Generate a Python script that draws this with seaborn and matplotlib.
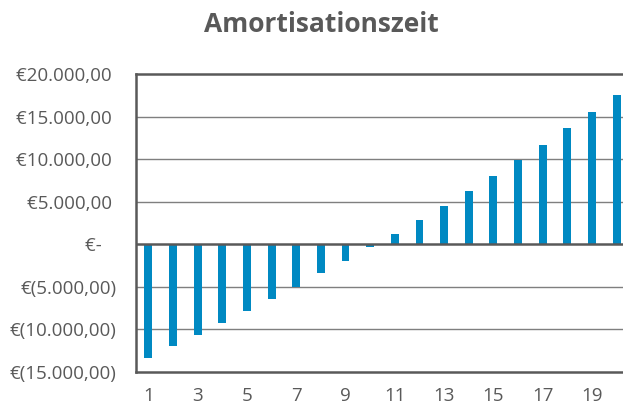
import numpy as np
import pandas as pd
import seaborn as sns
import matplotlib.pyplot as plt
from matplotlib.ticker import FuncFormatter

# Jahr und kumulierter Saldo (Euro)
jahre = list(range(1, 21))
saldo = [-13300, -12000, -10650, -9300, -7850, -6450, -5000, -3430, -1940, -330,
         1200, 2820, 4540, 6260, 8030, 9870, 11700, 13630, 15580, 17580]
y_ticks = [-15000, -10000, -5000, 0, 5000, 10000, 15000, 20000]
x_ticks = [1, 3, 5, 7, 9, 11, 13, 15, 17, 19]
titel = 'Amortisationszeit'

BAR_COLOR = '#0089C2'
TEXT_COLOR = '#595959'


def euro(v, pos=None):
    """ Buchhaltungsformat wie in Excel """
    if v == 0:
        return '€-   '
    s = f'{abs(v):,.2f}'.replace(',', 'X').replace('.', ',').replace('X', '.')
    if v < 0:
        return f'€({s})'
    return f'€{s} '


sns.set_style('white')
plt.rcParams['font.family'] = ['Open Sans', 'DejaVu Sans']

df = pd.DataFrame({'Jahr': jahre, 'Saldo': saldo})

fig = plt.figure(figsize=(6.23, 4.05), dpi=100)
ax = fig.add_axes([136 / 623, 1 - 372 / 405, 493 / 623, 298 / 405])

sns.barplot(data=df, x='Jahr', y='Saldo', color=BAR_COLOR, saturation=1,
            width=0.32, linewidth=0, native_scale=True, ax=ax, zorder=3)

ax.set_xlim(0.5, 20.5)
ax.set_ylim(-15000, 20000)
ax.set_yticks(y_ticks)
ax.set_xticks(x_ticks)
ax.yaxis.set_major_formatter(FuncFormatter(euro))
ax.tick_params(axis='both', length=0, labelsize=13.5, colors=TEXT_COLOR)
ax.tick_params(axis='y', pad=14)
ax.tick_params(axis='x', pad=11)
ax.set_xlabel('')
ax.set_ylabel('')

# Gitterlinien
for y in y_ticks[1:-1]:
    if y != 0:
        ax.axhline(y, color='#7f7f7f', lw=1, zorder=1)
ax.axhline(0, color=TEXT_COLOR, lw=1.8, zorder=4)

for side in ['left', 'top', 'bottom']:
    ax.spines[side].set_color(TEXT_COLOR)
    ax.spines[side].set_linewidth(1.8)
ax.spines['right'].set_visible(False)

fig.text(321 / 623, 1 - 24 / 405, titel, ha='center', va='center',
         fontsize=19, fontweight='bold', color=TEXT_COLOR)

plt.savefig('out.png', dpi=100)
